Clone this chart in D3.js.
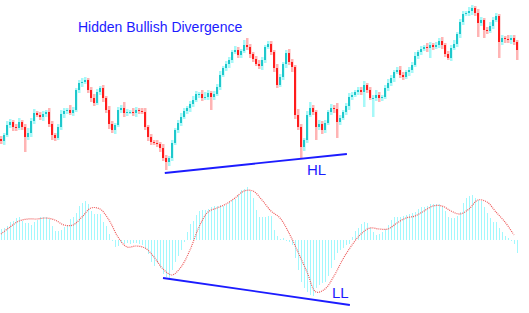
<!DOCTYPE html>
<html>
<head>
<meta charset="utf-8">
<script src="https://cdn.jsdelivr.net/npm/d3@7"></script>
<style>
  html, body { margin: 0; padding: 0; background: #fff; }
  svg { display: block; }
</style>
</head>
<body>
<div id="chart"></div>
<script>
// price closes, one per bar (points)
const closes = [
  39,45,55,58,53,52,58,53,43,47, 59,67,65,63,66,68,56,45,42,53,
  66,69,70,67,70,90,97,98,100,90, 82,77,88,92,82,70,56,50,55,70,
  72,67,68,68,67,70,69,68,53,43, 38,37,36,32,22,18,22,37,50,57,
  63,69,72,76,80,86,86,82,83,87, 83,86,93,105,112,116,120,128,130,125,
  129,135,133,126,121,116,114,120,133,136, 128,112,95,103,116,127,118,113,65,53,
  33,40,65,72,68,53,56,50,57,68, 72,71,58,62,68,74,83,85,88,90,
  88,95,90,82,82,85,82,83,92,97, 102,108,110,105,103,108,110,115,124,128,
  131,133,132,135,133,135,139,135,126,122, 132,136,146,158,166,167,169,172,167,157,
  160,150,149,154,160,164,138,142,141,140, 142,138,130
];
const firstOpen = 41;
// wick lengths above / below the body
const wickHi = [
  3,2,4,3,2,3,4,2,3,5, 3,4,2,3,3,2,4,3,2,3, 4,3,2,5,3,2,3,4,3,2, 3,4,3,2,3,2,4,3,2,3,
  3,6,3,2,4,3,2,3,4,2, 3,2,3,2,4,3,2,3,2,3, 4,3,2,3,4,3,2,4,5,3, 2,3,3,4,2,3,3,2,4,3,
  2,5,7,3,2,3,4,3,2,3, 3,2,4,3,2,3,4,3,2,6, 3,2,4,6,3,2,4,3,3,2, 4,3,6,3,2,3,4,3,2,3,
  3,4,2,3,3,5,3,2,3,4, 3,2,3,4,3,2,3,3,4,2, 3,2,4,3,2,3,3,4,2,3, 3,4,2,3,3,2,4,3,2,4,
  3,2,3,4,3,3,2,3,2,4, 3,3,2
];
const wickLo = [
  3,4,2,3,4,3,2,3,15,3, 4,3,2,3,4,3,3,5,3,2, 3,4,3,2,3,2,3,4,2,3, 4,3,2,3,4,3,5,3,4,2,
  3,4,3,2,3,4,3,2,3,4, 3,2,3,4,3,8,4,3,2,3, 3,2,3,4,3,2,4,3,2,3, 13,3,2,3,2,3,4,3,2,3,
  3,2,3,4,3,2,3,4,3,2, 3,4,3,2,3,4,3,5,4,3, 11,4,3,2,3,13,3,4,3,2, 3,4,16,3,2,3,4,3,2,3,
  3,15,3,2,19,3,4,3,2,3, 3,4,2,3,3,2,4,3,2,3, 3,2,4,10,3,2,3,4,3,2, 3,2,3,4,3,2,3,4,3,14,
  3,8,3,2,3,2,16,3,4,3, 4,3,10
];
// MACD main (histogram), one per bar
const macd = [
  11,12,14,18,19,22,23,19,17,17, 15,18,20,23,23,23,21,14,9,9,
  10,13,15,21,23,27,34,37,39,36, 29,26,26,26,18,14,6,-1,-7,-6,
  -3,-4,-3,-4,-3,-3,-4,-5,-9,-14, -22,-26,-23,-28,-34,-37,-38,-30,-22,-16,
  -10,-2,8,16,19,25,29,30,30,31, 33,34,34,35,34,35,38,40,41,45,
  50,51,53,49,42,30,23,23,23,24, 24,10,4,1,2,-1,-2,-5,-18,-30,
  -42,-48,-52,-55,-56,-48,-45,-43,-42,-36, -28,-20,-13,-10,-8,-5,-4,3,9,12,
  16,18,17,12,8,5,6,8,11,15, 20,23,23,23,24,25,26,27,28,31,
  33,33,34,36,36,36,36,33,29,23, 22,22,24,28,37,42,44,45,42,40,
  39,33,27,22,18,18,12,8,4,2, -1,-4,-13
];
// signal line, every third bar
const signalStep = 3;
const signal = [
  6,13,19,21,21,22,20,15,15,23, 32,31,20,3,-7,-6,-8,-17,-29,-35,
  -27,-10,13,28,32,36,42,49,49,40, 29,22,7,-12,-32,-52,-49,-36,-19,-5,
  6,12,11,11,17,22,24,29,34,34, 29,26,31,40,38,28,18,5
];
// divergence lines [bar, value]
const priceLine = [[54.6, 7], [115.3, 26]];
const macdLine = [[54, -38], [116.3, -65]];

const W = 529, H = 313;
const blue = "#1c1cff";

const svg = d3.select("#chart").append("svg")
  .attr("width", W).attr("height", H);
svg.append("rect").attr("width", W).attr("height", H).attr("fill", "#fff");

const x = d3.scaleLinear().domain([0, closes.length - 1]).range([1, 517]);
const yP = d3.scaleLinear().domain([0, 180]).range([180, 0]);
const yM = d3.scaleLinear().domain([-70, 60]).range([310, 180]);

const bars = closes.map((c, i) => {
  const o = i ? closes[i - 1] : firstOpen;
  return {i: i, o: o, c: c,
    hi: Math.max(o, c) + wickHi[i],
    lo: Math.min(o, c) - wickLo[i]};
});

// MACD histogram
svg.append("g").attr("shape-rendering", "crispEdges")
  .selectAll("rect")
  .data(macd)
  .join("rect")
  .attr("x", (d, i) => x(i))
  .attr("width", 1)
  .attr("y", d => Math.min(yM(d), yM(0)))
  .attr("height", d => Math.max(1, Math.abs(yM(d) - yM(0))))
  .attr("fill", "#a2f8fd");

// signal line
svg.append("path")
  .datum(signal)
  .attr("fill", "none")
  .attr("stroke", "#ee5a5a")
  .attr("stroke-width", 1.2)
  .attr("stroke-dasharray", "1,1")
  .attr("d", d3.line()
    .x((d, k) => x(k * signalStep))
    .y(d => yM(d))
    .curve(d3.curveCatmullRom));

// candles
const cg = svg.append("g").selectAll("g")
  .data(bars)
  .join("g");

cg.append("rect")
  .attr("x", d => x(d.i) - 1)
  .attr("width", 2.5)
  .attr("y", d => yP(d.hi))
  .attr("height", d => yP(d.lo) - yP(d.hi))
  .attr("fill", d => d.c >= d.o ? "#a6f8f8" : "#ffb4b4");

cg.append("rect")
  .attr("x", d => x(d.i) - 1)
  .attr("width", 2)
  .attr("y", d => yP(Math.max(d.o, d.c)))
  .attr("height", d => Math.max(1, Math.abs(yP(d.o) - yP(d.c))))
  .attr("fill", d => d.c >= d.o ? "#1ec8cc" : "#ff1c1c");

// divergence lines
const divLine = (pts, ys) => svg.append("line")
  .attr("x1", x(pts[0][0])).attr("y1", ys(pts[0][1]))
  .attr("x2", x(pts[1][0])).attr("y2", ys(pts[1][1]))
  .attr("stroke", blue).attr("stroke-width", 1.8);
divLine(priceLine, yP);
divLine(macdLine, yM);

// labels
const font = "'Liberation Sans', Arial, sans-serif";
svg.append("text").attr("x", 78).attr("y", 32)
  .attr("font-family", font).attr("font-size", 14).attr("fill", blue)
  .text("Hidden Bullish Divergence");
svg.append("text").attr("x", 307).attr("y", 175)
  .attr("font-family", font).attr("font-size", 15).attr("fill", blue)
  .text("HL");
svg.append("text").attr("x", 332).attr("y", 298)
  .attr("font-family", font).attr("font-size", 15).attr("fill", blue)
  .text("LL");
</script>
</body>
</html>
